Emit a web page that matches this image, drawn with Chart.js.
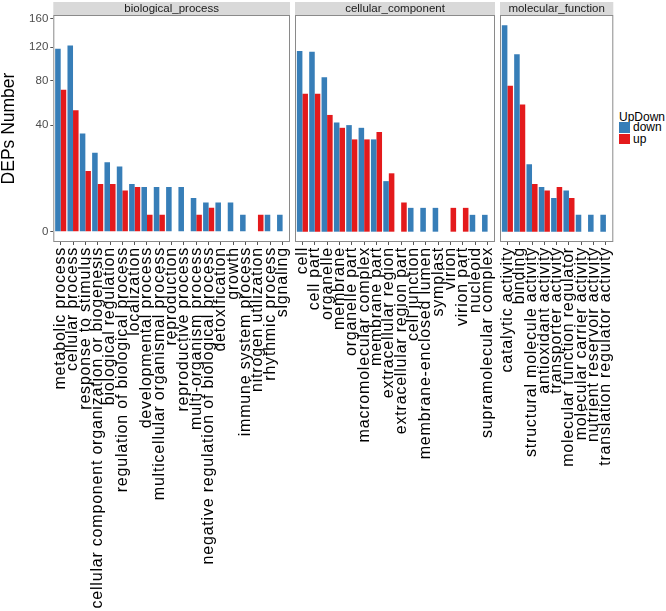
<!DOCTYPE html>
<html>
<head>
<meta charset="utf-8">
<title>DEPs GO classification</title>
<script src="https://cdn.jsdelivr.net/npm/chart.js@4.4.1/dist/chart.umd.min.js"></script>
<style>
  body { margin: 0; background: #fff; }
  #wrap { position: relative; width: 666px; height: 611px; font-family: "Liberation Sans", Arial, sans-serif; }
  #wrap canvas { position: absolute; top: 0; }
  #bioChart { left: 0; }
  #ccChart { left: 293px; }
  #mfChart { left: 498px; }
  .lgTitle { position: absolute; left: 619px; top: 111px; font-size: 12px; line-height: 13px; color: #000; }
  .lgRow { position: absolute; left: 619px; font-size: 12px; line-height: 11px; height: 11px; color: #000; }
  .lgRow span { display: inline-block; width: 11px; height: 10.5px; margin-right: 3px; vertical-align: top; }
</style>
</head>
<body>
<div id="wrap">
  <canvas id="bioChart" width="292" height="611"></canvas>
  <canvas id="ccChart" width="204" height="611"></canvas>
  <canvas id="mfChart" width="118" height="611"></canvas>
  <div class="lgTitle">UpDown</div>
  <div class="lgRow" style="top:122px"><span style="background:#377EB8"></span>down</div>
  <div class="lgRow" style="top:133.5px"><span style="background:#E41A1C"></span>up</div>
</div>
<script>
// data
const bioCats = ["metabolic process", "cellular process", "response to stimulus",
  "cellular component organization or biogenesis", "biological regulation",
  "regulation of biological process", "localization", "developmental process",
  "multicellular organismal process", "reproduction", "reproductive process",
  "multi-organism process", "negative regulation of biological process", "detoxification",
  "growth", "immune system process", "nitrogen utilization", "rhythmic process", "signaling"];
const bioDown = [118, 122, 34, 22, 17, 15, 8, 7, 7, 7, 7, 4, 3, 3, 3, 1, 0, 1, 1];
const bioUp = [71, 52, 13, 8, 8, 6, 7, 1, 1, 0, 0, 1, 2, 0, 0, 0, 1, 0, 0];

const ccCats = ["cell", "cell part", "organelle", "membrane", "organelle part",
  "macromolecular complex", "membrane part", "extracellular region", "extracellular region part",
  "cell junction", "membrane-enclosed lumen", "symplast", "virion", "virion part", "nucleoid",
  "supramolecular complex"];
const ccDown = [115, 114, 84, 42, 40, 38, 30, 9, 0, 2, 2, 2, 0, 0, 1, 1];
const ccUp = [67, 67, 48, 38, 30, 30, 35, 12, 3, 0, 0, 0, 2, 2, 0, 0];

const mfCats = ["catalytic activity", "binding", "structural molecule activity",
  "antioxidant activity", "transporter activity", "molecular function regulator",
  "molecular carrier activity", "nutrient reservoir activity", "translation regulator activity"];
const mfDown = [150, 111, 16, 7, 4, 6, 1, 1, 1];
const mfUp = [75, 57, 8, 6, 7, 4, 0, 0, 0];

const facetNames = ["biological_process", "cellular_component", "molecular_function"];
const yTicks = [0, 40, 80, 120, 160];

const downColor = "#377EB8";
const upColor = "#E41A1C";
const fontFamily = '"Liberation Sans", Arial, sans-serif';

// sqrt scale like ggplot's scale_y_sqrt, with 5% expansion
const allValues = [].concat(bioDown, bioUp, ccDown, ccUp, mfDown, mfUp);
const rootMax = Math.sqrt(Math.max(...allValues));
const yMin = -0.05 * rootMax;
const yMax = 1.05 * rootMax;

// x labels in the figure are drawn a bit spaced out
const labelSpacing = {
  id: "labelSpacing",
  beforeDraw(chart) {
    chart.ctx.letterSpacing = "0.8px";
  },
  beforeDatasetsDraw(chart) {
    chart.ctx.letterSpacing = "0px";
  },
};

// grey facet strip + panel border
const panelFrame = {
  id: "panelFrame",
  afterDraw(chart, args, opts) {
    const ctx = chart.ctx;
    const a = chart.chartArea;
    ctx.save();
    ctx.letterSpacing = "0px";
    ctx.fillStyle = "#d9d9d9";
    ctx.fillRect(a.left, 2, a.right - a.left, a.top - 2);
    ctx.strokeStyle = "#8a8a8a";
    ctx.lineWidth = 1;
    ctx.strokeRect(a.left + 0.5, a.top + 0.5, a.right - a.left - 1, a.bottom - a.top - 1);
    ctx.fillStyle = "#1a1a1a";
    ctx.font = "11.5px " + fontFamily;
    ctx.textAlign = "center";
    ctx.textBaseline = "middle";
    ctx.fillText(opts.label, (a.left + a.right) / 2, (2 + a.top) / 2 + 0.5);
    ctx.restore();
  },
};

function makePanel(id, name, cats, down, up, showY, pad) {
  const ctx = document.getElementById(id).getContext("2d");

  const config = {
    type: "bar",
    data: {
      labels: cats,
      datasets: [
        { label: "down", data: down.map(Math.sqrt), backgroundColor: downColor },
        { label: "up", data: up.map(Math.sqrt), backgroundColor: upColor },
      ],
    },
    options: {
      responsive: false,
      animation: false,
      events: [],
      layout: { padding: pad },
      datasets: {
        bar: { categoryPercentage: 0.9, barPercentage: 1, borderWidth: 0 },
      },
      plugins: {
        legend: { display: false },
        tooltip: { enabled: false },
        panelFrame: { label: name },
      },
      scales: {
        x: {
          // ggplot discrete expansion: 0.6 of a slot on each side
          afterBuildTicks(scale) {
            scale._startValue = -0.6;
            scale._valueRange = cats.length - 1 + 1.2;
          },
          afterFit(scale) {
            scale.height = 369;
            scale.paddingLeft = 0;
            scale.paddingRight = 0;
          },
          grid: {
            display: true,
            drawOnChartArea: false,
            drawTicks: true,
            tickLength: 3,
            offset: false,
            color: "#555",
          },
          border: { display: false },
          ticks: {
            autoSkip: false,
            minRotation: 90,
            maxRotation: 90,
            padding: 2,
            color: "#000",
            font: { family: fontFamily, size: 16 },
          },
        },
        y: {
          display: showY,
          min: yMin,
          max: yMax,
          afterBuildTicks(scale) {
            scale.ticks = yTicks.map((v) => ({ value: Math.sqrt(v) }));
          },
          afterFit(scale) {
            if (showY) scale.width = 53.3;
          },
          grid: { drawOnChartArea: false, tickLength: 3, color: "#555", z: 1 },
          border: { display: false },
          ticks: {
            z: 1,
            padding: 2,
            color: "#4d4d4d",
            font: { family: fontFamily, size: 11.5 },
            callback: (v) => Math.round(v * v),
          },
          title: {
            display: true,
            text: "DEPs Number",
            color: "#000",
            padding: 0,
            font: { family: fontFamily, size: 17.5, lineHeight: 1 },
          },
        },
      },
    },
    plugins: [labelSpacing, panelFrame],
  };

  return new Chart(ctx, config);
}

makePanel("bioChart", facetNames[0], bioCats, bioDown, bioUp, true, { left: 0, right: 2, top: 15, bottom: 0 });
makePanel("ccChart", facetNames[1], ccCats, ccDown, ccUp, false, { left: 2, right: 2, top: 15, bottom: 0 });
makePanel("mfChart", facetNames[2], mfCats, mfDown, mfUp, false, { left: 2, right: 2.7, top: 15, bottom: 0 });
</script>
</body>
</html>
